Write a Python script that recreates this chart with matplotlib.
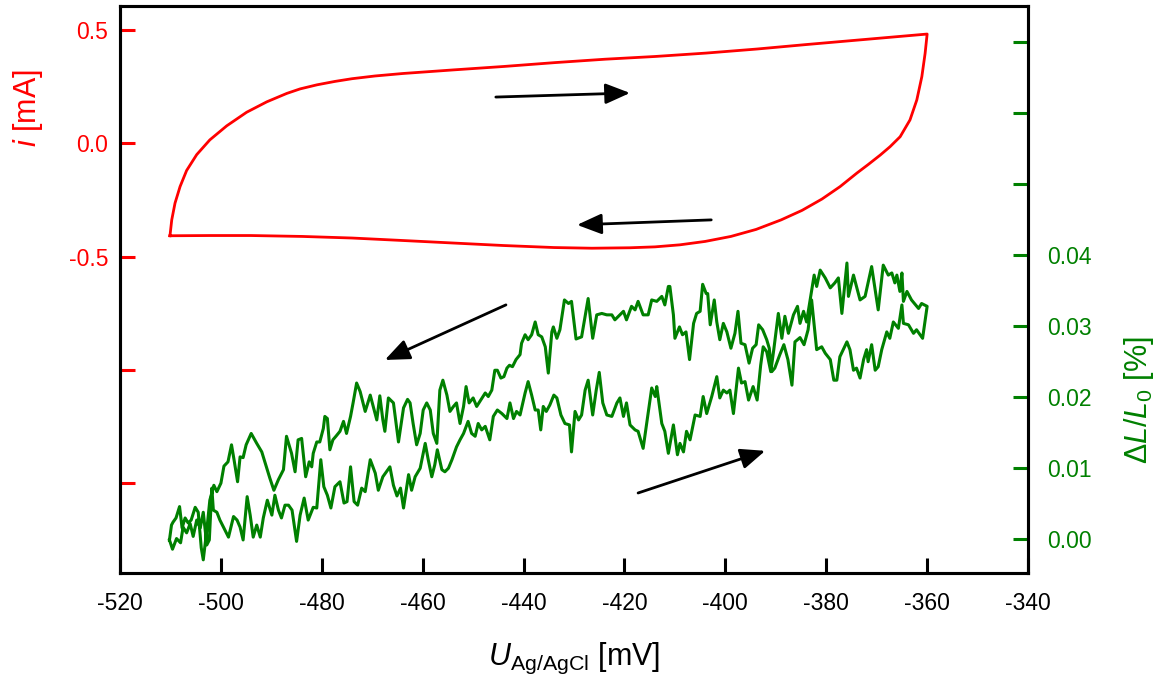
import matplotlib.pyplot as plt

plt.rcParams['font.family'] = ['Liberation Sans', 'DejaVu Sans']
plt.rcParams['mathtext.fontset'] = 'custom'
plt.rcParams['mathtext.rm'] = 'Liberation Sans'
plt.rcParams['mathtext.it'] = 'Liberation Sans:italic'
plt.rcParams['axes.unicode_minus'] = False

# cyclic voltammogram: anodic sweep -510 -> -360 mV, then back
u_cv_up = [-510.1, -509.75, -509.1, -508.1, -506.8, -504.8, -502.2, -498.85, -494.9,
           -490.9, -486.95, -484.3, -480.95, -477.4, -474.0, -469.45, -463.9, -453.8,
           -443.9, -433.8, -423.85, -413.95, -403.85, -393.7, -383.8, -371.9, -360.0]
i_cv_up = [-0.408, -0.338, -0.264, -0.191, -0.120, -0.050, 0.015, 0.077, 0.137,
           0.183, 0.220, 0.240, 0.258, 0.273, 0.285, 0.297, 0.308, 0.324,
           0.339, 0.356, 0.371, 0.383, 0.398, 0.416, 0.436, 0.459, 0.482]
u_cv_down = [-360.4, -361.05, -362.05, -363.4, -365.35, -367.35, -369.3, -371.7, -373.9,
             -377.25, -380.85, -384.8, -388.95, -393.9, -398.9, -404.0, -409.0, -413.95,
             -418.9, -426.45, -433.95, -444.05, -454.0, -463.9, -474.0, -483.9, -494.05,
             -502.15, -510.1]
i_cv_down = [0.397, 0.294, 0.191, 0.103, 0.029, -0.015, -0.052, -0.094, -0.131,
             -0.191, -0.246, -0.296, -0.338, -0.380, -0.411, -0.433, -0.448, -0.457,
             -0.461, -0.463, -0.460, -0.451, -0.440, -0.429, -0.418, -0.411, -0.407,
             -0.407, -0.408]

# strain dL/L0 [%], anodic sweep
u_dl_up = [
    -510.2, -509.6, -508.8, -508.0, -507.5, -506.8, -506.1, -505.5, -504.8, -504.1,
    -503.5, -502.8, -502.3, -501.8, -501.5, -500.8, -500.2, -499.5, -498.5, -497.5,
    -496.8, -496.2, -495.6, -494.8, -494.2, -493.6, -492.9, -492.2, -491.6, -490.8,
    -489.9, -489.3, -488.6, -488.0, -487.3, -486.6, -485.9, -485.0, -484.3, -483.5,
    -482.7, -481.7, -481.0, -480.2, -479.6, -478.9, -478.2, -477.4, -476.4, -475.6,
    -475.0, -474.3, -473.6, -472.9, -472.1, -471.4, -470.4, -469.4, -468.8, -467.9,
    -466.5, -465.8, -465.1, -464.4, -463.8, -462.8, -462.2, -461.5, -460.5,
    -459.5, -458.9, -458.2, -457.6, -457.1, -456.2, -455.6, -454.9, -454.2, -453.3,
    -452.6, -451.9, -451.0, -450.3, -449.6, -449.0, -448.3, -447.6, -446.7, -446.0,
    -445.2, -444.3, -443.3, -442.7, -442.0, -441.4, -440.7, -439.7, -439.1, -438.4,
    -437.7, -437.1, -436.6, -436.1, -435.5, -434.8, -434.0, -433.4, -432.6, -431.8,
    -430.9, -430.5, -429.8, -429.1, -428.5, -427.8, -427.2, -426.3, -425.6, -425.0,
    -424.3, -423.5, -422.5, -421.5, -420.9, -420.2, -419.6, -418.9, -417.9, -417.3,
    -416.3, -415.4, -414.6, -413.9, -413.6, -412.6, -412.0, -411.3, -410.3, -409.5,
    -409.0, -408.3, -407.7, -407.0, -406.0, -405.0, -404.4, -403.7, -402.7, -401.7,
    -401.1, -400.4, -399.7, -399.1, -398.4, -397.4, -396.8, -396.1, -395.4, -394.5,
    -393.7, -393.0, -392.5, -391.8, -391.0, -390.4, -389.5, -388.8, -388.2, -387.5,
    -386.5, -385.7, -385.2, -384.5, -383.9, -383.2, -382.4, -381.9, -381.2, -380.2,
    -379.2, -378.3, -377.6, -376.9, -375.9, -375.6, -374.6, -373.3, -372.3, -371.0,
    -369.7, -368.7, -367.7, -367.0, -366.4, -366.0, -365.4, -365.0, -364.7, -364.0,
    -363.1, -361.7, -361.1, -360.0]
dl_up = [
    -0.0001, -0.0014, 0.0001, -0.0005, 0.0017, 0.0009, 0.0022, 0.0004, 0.0027, 0.0016,
    0.0038, -0.0008, -0.0001, 0.0072, 0.0041, 0.0038, 0.0027, 0.0017, 0.0003, 0.0032,
    0.0027, 0.0017, -0.0001, 0.0060, 0.0034, 0.0003, 0.0020, 0.0003, 0.0030, 0.0055,
    0.0034, 0.0062, 0.0041, 0.0030, 0.0048, 0.0048, 0.0041, -0.0003, 0.0034, 0.0058,
    0.0027, 0.0045, 0.0044, 0.0112, 0.0074, 0.0062, 0.0044, 0.0074, 0.0081, 0.0051,
    0.0053, 0.0102, 0.0053, 0.0048, 0.0072, 0.0067, 0.0112, 0.0093, 0.0069, 0.0088,
    0.0102, 0.0076, 0.0061, 0.0072, 0.0044, 0.0091, 0.0069, 0.0088, 0.0100,
    0.0135, 0.0112, 0.0088, 0.0105, 0.0126, 0.0098, 0.0095, 0.0100, 0.0112, 0.0130,
    0.0140, 0.0149, 0.0166, 0.0149, 0.0145, 0.0163, 0.0154, 0.0159, 0.0140, 0.0173,
    0.0182, 0.0177, 0.0170, 0.0192, 0.0170, 0.0180, 0.0175, 0.0206, 0.0222, 0.0203,
    0.0182, 0.0182, 0.0154, 0.0187, 0.0180, 0.0189, 0.0203, 0.0199, 0.0175, 0.0163,
    0.0161, 0.0123, 0.0180, 0.0168, 0.0175, 0.0210, 0.0224, 0.0175, 0.0210, 0.0235,
    0.0192, 0.0175, 0.0173, 0.0192, 0.0199, 0.0173, 0.0192, 0.0161, 0.0154, 0.0152,
    0.0128, 0.0173, 0.0213, 0.0201, 0.0215, 0.0163, 0.0152, 0.0121, 0.0161, 0.0119,
    0.0135, 0.0123, 0.0152, 0.0140, 0.0175, 0.0173, 0.0201, 0.0177, 0.0201, 0.0229,
    0.0199, 0.0210, 0.0206, 0.0210, 0.0177, 0.0241, 0.0220, 0.0222, 0.0196, 0.0215,
    0.0196, 0.0245, 0.0271, 0.0264, 0.0236, 0.0267, 0.0318, 0.0283, 0.0314, 0.0290,
    0.0316, 0.0328, 0.0304, 0.0321, 0.0306, 0.0337, 0.0372, 0.0356, 0.0379, 0.0368,
    0.0354, 0.0361, 0.0368, 0.0318, 0.0389, 0.0342, 0.0372, 0.0337, 0.0342, 0.0384,
    0.0323, 0.0386, 0.0372, 0.0375, 0.0361, 0.0372, 0.0349, 0.0375, 0.0335, 0.0349,
    0.0337, 0.0325, 0.0332, 0.0328]

# strain, cathodic sweep back to -510 mV
u_dl_down = [
    -360.9, -362.1, -362.7, -363.7, -364.7, -365.0, -365.7, -366.7, -367.4, -368.0,
    -369.0, -369.7, -370.3, -371.0, -371.7, -372.0, -372.6, -373.3, -374.0, -374.6,
    -375.3, -375.9, -377.3, -377.9, -378.5, -379.2, -380.2, -380.9, -381.9, -382.9,
    -383.6, -384.4, -385.2, -386.2, -386.8, -387.6, -388.4, -389.2, -390.2, -390.8,
    -391.3, -391.8, -392.6, -393.4, -393.9, -394.6, -395.3, -396.1, -396.9, -397.5,
    -398.1, -398.9, -399.7, -400.4, -401.1, -401.7, -402.2, -403.0, -403.5, -403.8,
    -404.5, -405.0, -405.7, -406.3, -407.1, -407.8, -408.5, -409.1, -410.0, -410.3,
    -411.0, -411.3, -412.0, -412.6, -413.6, -414.6, -415.3, -416.3, -417.3, -417.9,
    -418.6, -419.6, -420.2, -420.9, -421.9, -422.5, -423.5, -424.5, -425.5, -426.3,
    -427.2, -427.8, -428.5, -429.6, -430.5, -431.1, -431.9, -432.8, -433.4, -434.1,
    -434.4, -435.1, -435.7, -436.4, -437.1, -437.7, -438.4, -439.1, -439.7, -440.4,
    -440.7, -441.5, -442.2, -442.8, -443.3, -443.9, -444.5, -445.2, -445.7, -446.3,
    -447.0, -447.6, -448.5, -449.3, -450.0, -450.8, -451.4, -451.9, -452.6, -453.3,
    -453.9, -454.6, -455.2, -456.0, -456.6, -457.2, -457.9, -458.5, -459.2, -459.9,
    -460.5, -461.2, -461.9, -462.5, -463.0, -463.8, -464.8, -465.8, -466.8, -467.5,
    -467.9, -468.5, -469.1, -470.4, -471.4, -472.4, -473.1, -473.8, -474.3, -475.1,
    -475.7, -476.4, -477.2, -477.8, -478.4, -478.9, -479.4, -479.7, -480.4, -481.0,
    -481.7, -482.0, -482.5, -483.2, -484.0, -484.7, -485.3, -486.0, -487.0, -487.6,
    -488.6, -489.5, -490.3, -490.9, -491.9, -492.9, -494.0, -495.0, -495.6, -496.2,
    -496.7, -497.4, -497.9, -498.6, -499.4, -500.0, -500.8, -501.4, -502.2, -502.8,
    -503.5, -503.9, -504.5, -505.1, -505.9, -506.5, -507.1, -507.7, -508.2, -508.9,
    -509.5, -509.8, -510.2]
dl_down = [
    0.0283, 0.0295, 0.0290, 0.0302, 0.0304, 0.0330, 0.0297, 0.0306, 0.0283, 0.0292,
    0.0267, 0.0243, 0.0238, 0.0274, 0.0250, 0.0267, 0.0253, 0.0227, 0.0241, 0.0238,
    0.0267, 0.0278, 0.0257, 0.0224, 0.0224, 0.0253, 0.0262, 0.0271, 0.0267, 0.0337,
    0.0295, 0.0274, 0.0284, 0.0278, 0.0217, 0.0253, 0.0274, 0.0260, 0.0241, 0.0236,
    0.0269, 0.0281, 0.0295, 0.0302, 0.0274, 0.0269, 0.0248, 0.0274, 0.0276, 0.0321,
    0.0290, 0.0269, 0.0292, 0.0304, 0.0281, 0.0306, 0.0337, 0.0302, 0.0346, 0.0346,
    0.0359, 0.0321, 0.0318, 0.0304, 0.0253, 0.0292, 0.0288, 0.0299, 0.0283, 0.0316,
    0.0356, 0.0356, 0.0330, 0.0342, 0.0335, 0.0337, 0.0316, 0.0316, 0.0335, 0.0323,
    0.0328, 0.0309, 0.0321, 0.0316, 0.0309, 0.0316, 0.0316, 0.0318, 0.0316, 0.0283,
    0.0339, 0.0314, 0.0285, 0.0282, 0.0335, 0.0332, 0.0337, 0.0295, 0.0283, 0.0299,
    0.0292, 0.0234, 0.0271, 0.0285, 0.0288, 0.0306, 0.0288, 0.0281, 0.0288, 0.0276,
    0.0260, 0.0253, 0.0243, 0.0245, 0.0241, 0.0229, 0.0227, 0.0238, 0.0238, 0.0210,
    0.0201, 0.0206, 0.0196, 0.0187, 0.0199, 0.0192, 0.0215, 0.0187, 0.0163, 0.0192,
    0.0187, 0.0180, 0.0203, 0.0224, 0.0210, 0.0135, 0.0149, 0.0182, 0.0192, 0.0182,
    0.0149, 0.0133, 0.0163, 0.0192, 0.0197, 0.0185, 0.0137, 0.0192, 0.0199, 0.0152,
    0.0168, 0.0202, 0.0168, 0.0203, 0.0180, 0.0208, 0.0220, 0.0192, 0.0173, 0.0149,
    0.0166, 0.0152, 0.0145, 0.0140, 0.0126, 0.0170, 0.0173, 0.0156, 0.0137, 0.0137,
    0.0121, 0.0102, 0.0109, 0.0088, 0.0142, 0.0140, 0.0095, 0.0121, 0.0145, 0.0098,
    0.0084, 0.0069, 0.0086, 0.0100, 0.0123, 0.0135, 0.0149, 0.0133, 0.0115, 0.0116,
    0.0081, 0.0112, 0.0133, 0.0109, 0.0103, 0.0079, 0.0067, 0.0076, 0.0055, 0.0013,
    -0.0029, -0.0012, 0.0038, 0.0045, 0.0027, 0.0023, 0.0030, 0.0016, 0.0046, 0.0030,
    0.0024, 0.0020, -0.0001]

x_ticks = [-520, -500, -480, -460, -440, -420, -400, -380, -360, -340]
i_ticks = [-1.5, -1.0, -0.5, 0.0, 0.5]
i_tick_labels = ['', '', '-0.5', '0.0', '0.5']
dl_ticks = [0.00, 0.01, 0.02, 0.03, 0.04, 0.05, 0.06, 0.07]
dl_tick_labels = ['0.00', '0.01', '0.02', '0.03', '0.04', '', '', '']

RED = '#ff0000'
GREEN = '#008000'

fig = plt.figure(figsize=(11.62, 6.84), dpi=100)
ax = fig.add_axes([0.1033, 0.1623, 0.7814, 0.8290])
ax2 = ax.twinx()

ax.plot(u_cv_up + u_cv_down, i_cv_up + i_cv_down, color=RED, lw=2.0,
        solid_joinstyle='round')
ax2.plot(u_dl_up + u_dl_down, dl_up + dl_down, color=GREEN, lw=2.2)

ax.set_xlim(-520, -340)
ax.set_ylim(-1.896, 0.606)
ax2.set_ylim(-0.00475, 0.0751)

ax.set_xticks(x_ticks)
ax.set_xticklabels([str(t) for t in x_ticks])
ax.set_yticks(i_ticks)
ax.set_yticklabels(i_tick_labels)
ax2.set_yticks(dl_ticks)
ax2.set_yticklabels(dl_tick_labels)

for a in (ax, ax2):
    for s in a.spines.values():
        s.set_linewidth(2.2)
        s.set_color('black')

ax.tick_params(axis='x', direction='in', length=11, width=2.2, color='black',
               labelsize=16.5, pad=14)
ax.tick_params(axis='y', direction='in', length=11, width=2.2, color=RED,
               labelcolor=RED, labelsize=16.5, pad=8.5)
ax2.tick_params(axis='y', direction='in', length=11, width=2.2, color=GREEN,
                labelcolor=GREEN, labelsize=16.5, pad=14)

ax.set_xlabel(r'$U_{\mathrm{Ag/AgCl}}$ [mV]', fontsize=22, va='center')
ax.xaxis.set_label_coords(0.5, -0.15)
ax.set_ylabel(r'$i$ [mA]', fontsize=22, color=RED, va='center')
ax.yaxis.set_label_coords(-0.101, 0.82)
ax2.set_ylabel(r'$\Delta L/L_0$ [%]', fontsize=22, color=GREEN, va='center')
ax2.yaxis.set_label_coords(1.122, 0.305)

# sweep direction arrows
arrow = dict(arrowstyle='-|>,head_length=0.6,head_width=0.25', color='black',
             lw=2, mutation_scale=25, shrinkA=0, shrinkB=0)
ax.annotate('', xy=(-418.9, 0.222), xytext=(-445.5, 0.204), arrowprops=arrow)
ax.annotate('', xy=(-429.4, -0.360), xytext=(-402.8, -0.338), arrowprops=arrow)
ax.annotate('', xy=(-467.5, -0.956), xytext=(-443.5, -0.713), arrowprops=arrow)
ax.annotate('', xy=(-392.1, -1.357), xytext=(-417.3, -1.543), arrowprops=arrow)

fig.savefig('out.png', dpi=100)
